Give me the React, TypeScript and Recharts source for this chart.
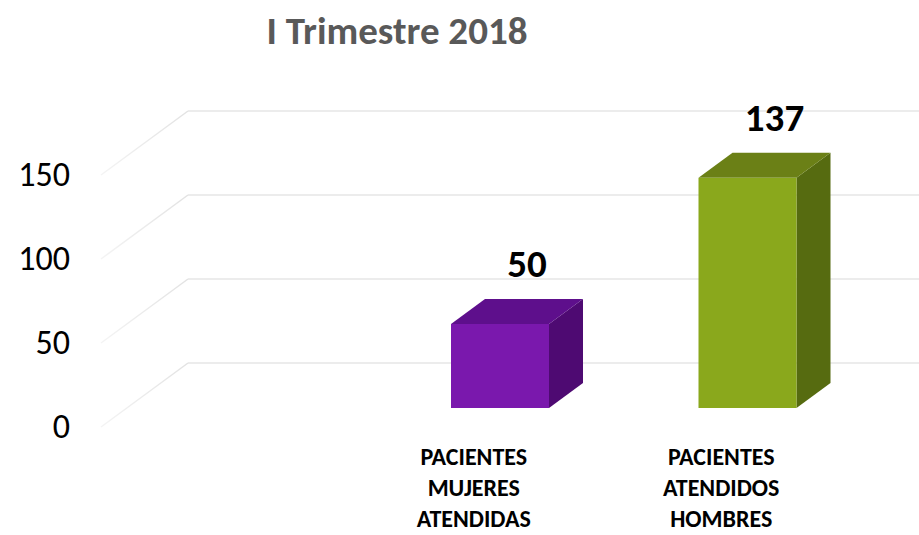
import React from 'react'
import { BarChart, Bar, XAxis, YAxis, CartesianGrid, LabelList } from 'recharts'

const categories = ['PACIENTES MUJERES ATENDIDAS', 'PACIENTES ATENDIDOS HOMBRES']
const values = [50, 137]
const yTicks = [0, 50, 100, 150]

const frontColors = ['#7a18ad', '#8aa81c']
const topColors = ['#5e0f8c', '#6b8016']
const sideColors = ['#4e0a72', '#566b10']

const FONT = 'Calibri, Carlito, Lato, sans-serif'

// perspective offsets (bar depth and back wall / front axis relative to bar plane)
const DEPTH_X = 34
const DEPTH_Y = -25
const WALL_X = 61
const WALL_Y = -45
const FRONT_X = -26
const FRONT_Y = 19

const PLOT_LEFT = 127
const PLOT_BOTTOM = 408

const data = categories.map((name, i) => ({ name, value: values[i] }))

function Box3D(props: any) {
  const { x, y, width, height, index } = props
  if (height <= 0) return null
  const top = `${x},${y} ${x + DEPTH_X},${y + DEPTH_Y} ${x + width + DEPTH_X},${y + DEPTH_Y} ${x + width},${y}`
  const side = `${x + width},${y} ${x + width + DEPTH_X},${y + DEPTH_Y} ${x + width + DEPTH_X},${y + height + DEPTH_Y} ${x + width},${y + height}`
  return (
    <g>
      <polygon points={side} fill={sideColors[index]} />
      <polygon points={top} fill={topColors[index]} />
      <rect x={x} y={y} width={width} height={height} fill={frontColors[index]} />
    </g>
  )
}

function gridLine(props: any) {
  const { x1, y1, index } = props
  const bx = x1 + WALL_X
  const by = y1 + WALL_Y
  return (
    <g key={`grid-${index}`}>
      <line x1={x1 + FRONT_X} y1={y1 + FRONT_Y} x2={bx} y2={by} stroke="url(#diagFade)" strokeWidth={1.5} />
      <line x1={bx} y1={by} x2={919} y2={by} stroke="#e6e6e6" strokeWidth={1.5} />
    </g>
  )
}

function renderYTick(props: any) {
  const { y, payload } = props
  return (
    <text key={`yt-${payload.value}`} x={PLOT_LEFT + FRONT_X - 31} y={y + FRONT_Y} dy={11} textAnchor="end" fontFamily={FONT} fontSize={34} fill="#000">
      {payload.value}
    </text>
  )
}

function renderXTick(props: any) {
  const { x, payload } = props
  const words = String(payload.value).split(' ')
  return (
    <text key={`xt-${payload.value}`} textAnchor="middle" fontFamily={FONT} fontSize={24} fontWeight="bold" fill="#000">
      {words.map((w, i) => (
        <tspan key={i} x={x + FRONT_X} y={PLOT_BOTTOM + 57 + i * 31}>{w}</tspan>
      ))}
    </text>
  )
}

function ValueLabel(props: any) {
  const { x, y, width, value } = props
  return (
    <text x={x + width / 2 + 27} y={y + DEPTH_Y - 36} dy={14} textAnchor="middle" fontFamily={FONT} fontSize={39} fontWeight="bold" fill="#000">
      {value}
    </text>
  )
}

export default function App() {
  return (
    <div style={{ position: 'relative', width: 919, height: 535, background: '#fff' }}>
      <style>{'body{margin:0}'}</style>
      <div
        style={{
          position: 'absolute',
          left: 0,
          top: 7,
          width: 794,
          textAlign: 'center',
          fontFamily: FONT,
          fontWeight: 'bold',
          fontSize: 39,
          color: '#595959',
          zIndex: 1,
        }}
      >
        I Trimestre 2018
      </div>
      <BarChart width={919} height={535} data={data} margin={{ top: 156, right: 48, bottom: 97, left: 67 }} barSize={98}>
        <defs>
          <linearGradient id="diagFade" x1="0" y1="1" x2="1" y2="0">
            <stop offset="0%" stopColor="#f4f4f4" />
            <stop offset="100%" stopColor="#e2e2e2" />
          </linearGradient>
        </defs>
        <CartesianGrid vertical={false} horizontal={gridLine} />
        <XAxis dataKey="name" height={30} axisLine={false} tickLine={false} padding={{ left: 249, right: 0 }} tick={renderXTick} interval={0} />
        <YAxis width={60} domain={[0, 150]} ticks={yTicks} axisLine={false} tickLine={false} tick={renderYTick} />
        <Bar dataKey="value" shape={<Box3D />} isAnimationActive={false}>
          <LabelList dataKey="value" content={<ValueLabel />} />
        </Bar>
      </BarChart>
    </div>
  )
}
